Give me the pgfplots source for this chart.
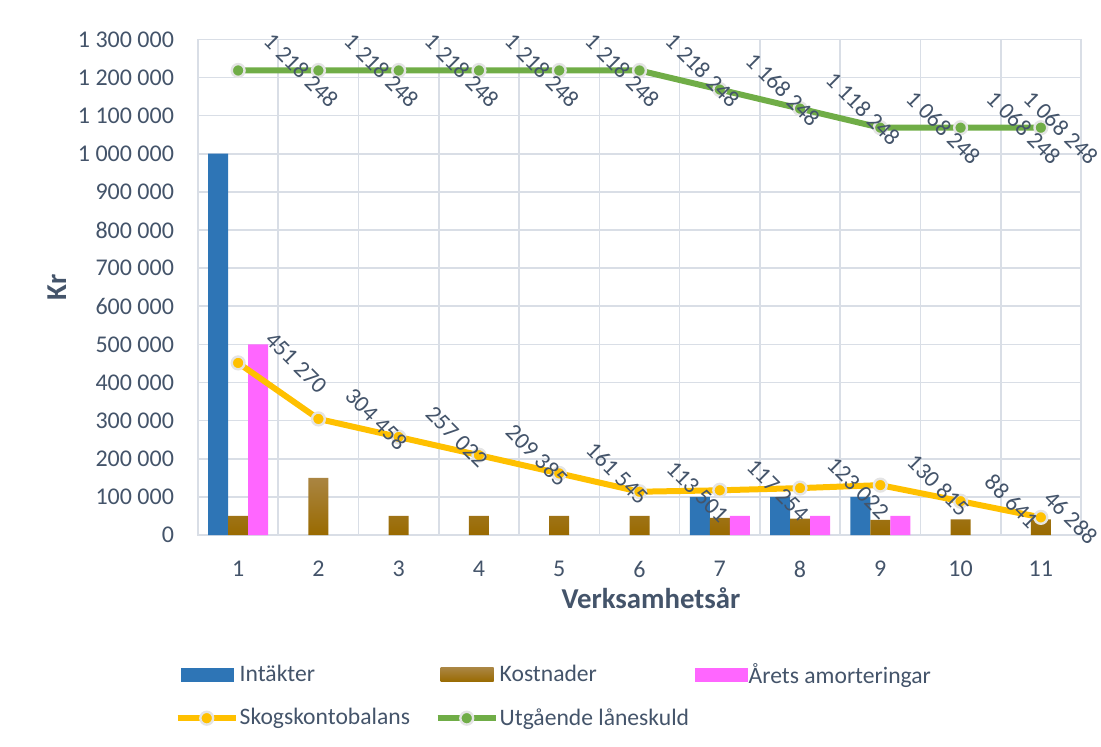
\documentclass[border=0pt]{standalone}
\usepackage{pgfplots}
\pgfplotsset{compat=1.18}
\usepackage{fontspec}
\setmainfont{Carlito}
\definecolor{txt}{RGB}{68,84,106}
\definecolor{gridc}{RGB}{217,222,230}
\definecolor{cblue}{RGB}{46,117,182}
\definecolor{cbrownT}{RGB}{170,133,66}
\definecolor{cbrownB}{RGB}{153,106,0}
\definecolor{cpink}{RGB}{255,102,255}
\definecolor{cyel}{RGB}{255,192,0}
\definecolor{cgreen}{RGB}{112,173,71}
\definecolor{halo}{RGB}{228,228,228}
\newcommand{\legbox}[1]{\makebox[97pt][l]{#1}}
\pgfplotsset{
  barleg/.style={legend image code/.code={\path[##1] (1.5pt,-3.5pt) rectangle (28pt,3.5pt);}},
  lineleg/.style={legend image code/.code={\draw[mark repeat=2, mark phase=2, ##1] plot coordinates {(0pt,0pt) (14.5pt,0pt) (29pt,0pt)};}},
  lbl/.style={draw=none, mark=none, forget plot, nodes near coords={\pgfplotspointmeta},
    point meta=explicit symbolic,
    every node near coord/.append style={anchor=center, xshift=#1, rotate=-45,
      font=\fontsize{11.7}{13}\selectfont, text=txt, inner sep=0pt}},
}
\begin{document}
\begin{tikzpicture}
\useasboundingbox (-99pt,-105.5pt) rectangle (451.5pt,267.5pt);
\begin{axis}[
  at={(0,0)}, anchor=south west,
  scale only axis, width=441.5pt, height=247.85pt,
  xmin=0.5, xmax=11.5, ymin=0, ymax=1300000,
  xtick={1,...,11}, ytick={0,100000,...,1300000},
  minor xtick={1.5,2.5,...,10.5},
  xminorgrids, ymajorgrids,
  major tick length=0pt, minor tick length=0pt,
  axis line style={draw=gridc, line width=0.8pt},
  grid style={draw=gridc, line width=0.8pt},
  minor grid style={draw=gridc, line width=0.8pt},
  scaled y ticks=false,
  /pgf/number format/.cd, fixed, precision=0, 1000 sep={\ }, assume math mode=true,
  /pgfplots/.cd,
  tick label style={font=\fontsize{12}{14}\selectfont, text=txt},
  xticklabel style={yshift=-9.5pt},
  yticklabel style={xshift=-8.5pt},
  xlabel={Verksamhetsår}, ylabel={Kr},
  label style={font=\bfseries\fontsize{14.4}{16}\selectfont, text=txt},
  xlabel style={at={(axis description cs:0.513,-0.127)}, anchor=center},
  ylabel style={at={(axis description cs:-0.16,0.5)}, anchor=center},
  legend columns=3,
  legend style={at={(-0.0336,-0.242)}, anchor=north west, draw=none, fill=none,
    font=\fontsize{11.8}{13}\selectfont, text=txt,
    nodes={inner xsep=0.5pt},
    row sep=7pt},
  clip=false,
]
% bars
\addplot[ybar, bar width=10pt, bar shift=-10pt, fill=cblue, draw=none, barleg]
  coordinates {(1,1000000) (7,100000) (8,100000) (9,100000)};
\addlegendentry{\legbox{Intäkter}}
\addplot[ybar, bar width=10pt, bar shift=0pt, draw=none, top color=cbrownT, bottom color=cbrownB, barleg]
  coordinates {(1,50000) (2,150000) (3,50000) (4,50000) (5,50000) (6,50000)
               (7,45000) (8,43000) (9,40000) (10,41000) (11,41000)};
\addlegendentry{\legbox{Kostnader}}
\addplot[ybar, bar width=10pt, bar shift=10pt, fill=cpink, draw=none, barleg]
  coordinates {(1,500000) (7,50000) (8,50000) (9,50000)};
\addlegendentry{\legbox{Årets amorteringar}}
% lines
\addplot[cyel, line width=3pt, mark=*, mark size=3.2pt,
  mark options={fill=cyel, draw=halo, line width=1.2pt}, lineleg]
  coordinates {(1,451270) (2,304458) (3,257022) (4,209385) (5,161545) (6,113501)
               (7,117254) (8,123022) (9,130815) (10,88641) (11,46288)};
\addlegendentry{\legbox{Skogskontobalans}}
\addplot[cgreen, line width=3pt, mark=*, mark size=3.2pt,
  mark options={fill=cgreen, draw=halo, line width=1.2pt}, lineleg]
  coordinates {(1,1218248) (2,1218248) (3,1218248) (4,1218248) (5,1218248) (6,1218248)
               (7,1168248) (8,1118248) (9,1068248) (10,1068248) (11,1068248)};
\addlegendentry{\legbox{Utgående låneskuld}}
% data labels
\addplot[lbl=29pt] coordinates {(1,451270)[451 270] (2,304458)[304 458] (3,257022)[257 022]
  (4,209385)[209 385] (5,161545)[161 545] (6,113501)[113 501] (7,117254)[117 254]
  (8,123022)[123 022] (9,130815)[130 815]};
\addplot[lbl=25.5pt] coordinates {(10,88641)[88 641]};
\addplot[lbl=15pt] coordinates {(11,46288)[46 288]};
\addplot[lbl=31.5pt] coordinates {(1,1218248)[1 218 248] (2,1218248)[1 218 248]
  (3,1218248)[1 218 248] (4,1218248)[1 218 248] (5,1218248)[1 218 248]
  (6,1218248)[1 218 248] (7,1168248)[1 168 248] (8,1118248)[1 118 248]
  (9,1068248)[1 068 248] (10,1068248)[1 068 248]};
\addplot[lbl=10pt] coordinates {(11,1068248)[1 068 248]};
\end{axis}
\end{tikzpicture}
\end{document}
